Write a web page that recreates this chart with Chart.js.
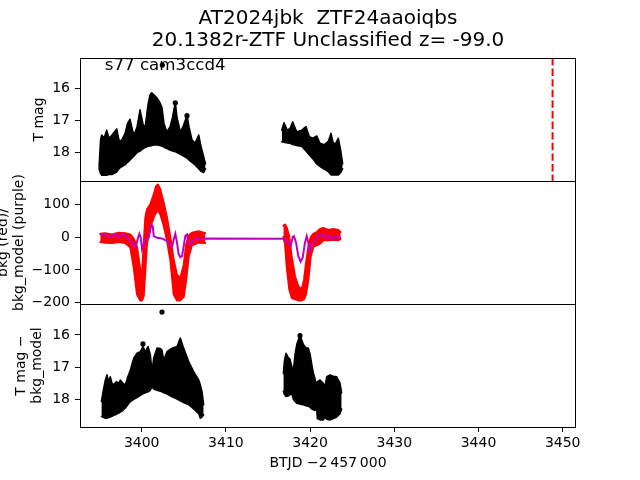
<!DOCTYPE html>
<html><head><meta charset="utf-8">
<script src="https://cdn.jsdelivr.net/npm/chart.js@4/dist/chart.umd.min.js"></script>
<style>html,body{margin:0;padding:0;background:#fff}canvas{display:block}</style>
</head><body>
<canvas id="c" width="640" height="480"></canvas>
<script>
// ---------- data ----------
const TITLE_LINES = ['AT2024jbk  ZTF24aaoiqbs', '20.1382r-ZTF Unclassified z= -99.0'];
const ANNOTATION = 's77 cam3ccd4';
const X_TITLE = 'BTJD \u22122\u2009457\u2009000';
const X_TICKS = [3400, 3410, 3420, 3430, 3440, 3450];
const MAG_TICKS = [16, 17, 18];
const BKG_TICKS = [-200, -100, 0, 100];
const T_EVENT = 3448.8; // red dashed marker

// Panel 1: T mag, envelope of the dense light curve (upper = brightest, lower = faintest)
const tA1 = [3394.93,3395.11,3395.25,3395.52,3395.84,3396.12,3396.47,3397.03,3397.30,3397.54,3398.02,3398.31,3398.61,3398.91,3399.09,3399.44,3399.80,3400.15,3400.39,3400.75,3400.99,3401.19,3401.46,3401.82,3402.17,3402.41,3402.65,3403.00,3403.36,3403.66,3403.99,3404.19,3404.58,3404.90,3405.38,3405.62,3405.97,3406.33,3406.77,3407.04,3407.34,3407.58];
const magTopA1 = [18.45,17.6,17.45,17.55,17.3,17.55,17.45,17.26,17.6,17.65,17.4,17.1,16.96,17.3,17.45,17.2,16.67,17.1,17.24,16.5,16.2,16.14,16.2,16.3,16.45,16.6,17.1,17.35,17.2,16.9,16.42,16.9,17.35,17.2,16.83,17.2,17.6,17.7,17.45,17.8,18.1,18.35];
const magBotA1 = [18.5,18.65,18.7,18.7,18.7,18.68,18.68,18.6,18.5,18.45,18.38,18.3,18.23,18.15,18.1,18.0,17.95,17.88,17.84,17.8,17.79,17.78,17.76,17.76,17.78,17.8,17.83,17.87,17.92,17.95,17.97,18.0,18.05,18.1,18.17,18.23,18.3,18.38,18.5,18.58,18.62,18.5];
const tA2 = [3416.63,3416.9,3417.29,3417.61,3417.93,3418.41,3419.0,3419.51,3419.9,3420.35,3420.78,3421.18,3421.7,3422.16,3422.48,3422.76,3423.05,3423.35,3423.63,3423.87];
const magTopA2 = [17.3,17.07,17.3,17.25,17.04,17.35,17.3,17.19,17.5,17.55,17.48,17.71,17.75,17.65,17.4,17.71,17.7,17.55,17.92,18.35];
const magBotA2 = [17.66,17.68,17.7,17.71,17.75,17.78,17.81,17.95,18.07,18.2,18.35,18.43,18.52,18.59,18.69,18.69,18.69,18.69,18.62,18.5];
const dotTimesA = [3402.45, 3403.99, 3405.38];
const dotMagsA = [15.28, 16.45, 16.85];

// Panel 2: background (red band) and background model (purple line)
const tB1 = [3395.08,3395.68,3396.47,3397.27,3398.05,3398.65,3399.05,3399.44,3399.83,3400.04,3400.24,3400.43,3400.63,3401.02,3401.43,3401.70,3401.94,3402.21,3402.61,3403.00,3403.40,3403.80,3404.19,3404.58,3404.99,3405.26,3405.58,3405.97,3406.77,3407.55];
const bkgUpB1 = [10,12,8,13,12,8,-5,-30,-100,-110,-20,60,85,100,130,155,160,145,105,60,0,-70,-115,-125,-85,-25,5,13,18,12];
const bkgLoB1 = [-15,-17,-18,-15,-18,-32,-93,-175,-193,-193,-180,-100,-20,30,60,75,80,70,35,-10,-70,-175,-193,-193,-182,-135,-60,-25,-17,-18];
const tB2 = [3416.82,3417.02,3417.22,3417.53,3417.81,3418.21,3418.60,3419.00,3419.28,3419.51,3419.79,3420.07,3420.38,3420.78,3421.18,3421.57,3422.16,3422.76,3423.35,3423.63];
const bkgUpB2 = [35,38,30,0,-60,-120,-150,-160,-130,-80,-30,0,10,15,25,28,22,25,22,15];
const bkgLoB2 = [0,-20,-90,-160,-185,-190,-193,-193,-190,-175,-130,-60,-30,-25,-20,-10,-10,-8,-10,-5];
const tModel = [3395.08,3395.68,3396.08,3396.47,3396.86,3397.27,3397.66,3398.05,3398.46,3398.85,3399.05,3399.32,3399.56,3399.72,3399.88,3400.04,3400.24,3400.43,3400.83,3401.14,3401.30,3401.43,3401.82,3402.41,3403.00,3403.40,3403.60,3403.80,3403.99,3404.19,3404.39,3404.58,3404.79,3404.99,3405.18,3405.38,3405.58,3405.77,3406.17,3406.57,3406.96,3407.55,
  3416.82,3417.41,3417.70,3417.93,3418.09,3418.33,3418.60,3418.88,3419.12,3419.39,3419.60,3419.79,3419.90,3420.19,3420.58,3420.97,3421.38,3421.77,3422.16,3422.57,3422.96,3423.35,3423.63];
const bkgModel = [6,6,0,3,10,0,8,5,-7,-17,-32,-27,-2,10,-2,-37,-22,-7,-2,38,33,3,-2,-4,-12,-27,-32,-7,10,-17,-53,-61,-58,-27,3,8,-22,-22,-12,-2,-7,-4,
  -5,-17,-27,0,3,-17,-58,-75,-63,-17,3,-17,-43,-27,-12,3,8,-2,6,-7,3,-2,0];

// Panel 3: T mag - bkg_model envelope
const tC1 = [3395.21,3395.48,3395.68,3395.88,3396.07,3396.27,3396.47,3396.67,3396.97,3397.26,3397.46,3397.76,3398.06,3398.35,3398.65,3399.05,3399.44,3399.84,3400.15,3400.43,3400.75,3401.03,3401.22,3401.42,3401.82,3402.21,3402.41,3402.61,3403.00,3403.60,3404.19,3404.59,3404.98,3405.58,3406.17,3406.77,3406.96,3407.16,3407.36];
const magTopC1 = [18.07,17.66,17.4,17.24,17.45,17.3,17.5,17.55,17.45,17.5,17.4,17.5,17.55,17.3,17.09,16.72,16.57,16.52,16.36,16.52,16.36,16.62,17.14,16.72,16.41,16.42,16.47,16.78,16.52,16.41,16.36,16.1,16.41,16.83,17.14,17.4,17.55,17.76,18.17];
const magBotC1 = [18.53,18.57,18.59,18.59,18.57,18.55,18.53,18.5,18.47,18.43,18.4,18.35,18.27,18.17,18.07,18.0,17.95,17.88,17.83,17.8,17.77,17.72,17.61,17.68,17.72,17.75,17.77,17.8,17.84,17.92,17.99,18.05,18.1,18.17,18.3,18.45,18.59,18.55,18.48];
const tC2 = [3416.82,3416.95,3417.14,3417.4,3417.61,3417.85,3418.01,3418.21,3418.41,3418.8,3419.2,3419.5,3419.79,3420.0,3420.19,3420.4,3420.58,3420.75,3420.86,3421.18,3421.57,3421.77,3421.97,3422.37,3422.76,3423.16,3423.55,3423.75];
const magTopC2 = [17.2,16.8,16.57,16.7,16.75,17.0,17.1,16.6,16.3,16.0,16.3,16.4,16.41,16.6,16.9,17.2,17.35,17.6,17.45,17.4,17.5,17.6,17.3,17.24,17.28,17.3,17.5,17.8];
const magBotC2 = [17.75,17.85,17.91,17.9,17.85,17.85,18.0,18.07,18.12,18.15,18.17,18.2,18.22,18.25,18.3,18.33,18.35,18.2,18.6,18.64,18.64,18.55,18.62,18.64,18.6,18.55,18.45,18.3];
const dotTimesC = [3402.41, 3400.15, 3418.8];
const dotMagsC = [15.29, 16.28, 16.02];

// axis ranges
const X_RANGE = [3392.67, 3451.58];
const MAG_RANGE_A = [15.06, 18.88];
const BKG_RANGE = [-204, 171];
const MAG_RANGE_C = [15.04, 18.86];

// ---------- chart ----------
Chart.defaults.font.family = 'DejaVu Sans';
Chart.defaults.color = '#000';

const toXY = (xs, ys) => xs.map((x, i) => ({x: x, y: ys[i]}));
const fmt = v => (v < 0 ? '\u2212' + Math.abs(v) : String(v));
const setTicks = vals => s => { s.ticks = vals.map(v => ({value: v})); };

const band = (xs, ys, axis, color, fill, bw) => ({
  data: toXY(xs, ys), yAxisID: axis, borderColor: color, backgroundColor: color,
  borderWidth: bw, pointRadius: 0, fill: fill ? '-1' : false, tension: 0,
  borderJoinStyle: 'round', borderCapStyle: 'round'
});
const dots = (xs, ys, axis) => ({
  data: toXY(xs, ys), yAxisID: axis, showLine: false, pointRadius: 2.6,
  pointBackgroundColor: '#000', pointBorderWidth: 0, borderColor: '#000'
});

const yAxis = (opts) => Object.assign({
  type: 'linear', position: 'left', stack: 'panels', stackWeight: 1, offset: false,
  afterFit: s => { s.width = 80; },
  grid: {drawOnChartArea: false, drawTicks: true, tickLength: 5, tickColor: '#000', tickWidth: 1},
  border: {display: false},
  ticks: {font: {size: 14}, padding: 5, color: '#000', callback: v => fmt(v)}
}, opts);

const framePlugin = {
  id: 'frames',
  afterDatasetsDraw(chart) {
    const {ctx, chartArea} = chart;
    ctx.save();
    ctx.strokeStyle = '#000';
    ctx.lineWidth = 1;
    ['yA', 'yB', 'yC'].forEach(id => {
      const s = chart.scales[id];
      ctx.strokeRect(Math.round(chartArea.left) + 0.5, Math.round(s.top) + 0.5,
        Math.round(chartArea.width) - 1, Math.round(s.bottom) - Math.round(s.top));
    });
    const sA = chart.scales.yA;
    ctx.font = '16.67px "DejaVu Sans"';
    ctx.fillStyle = '#000';
    ctx.textBaseline = 'alphabetic';
    ctx.textAlign = 'left';
    ctx.fillText(ANNOTATION, chartArea.left + 0.05 * chartArea.width, sA.top + 0.1 * sA.height);
    ctx.restore();
  }
};

new Chart(document.getElementById('c'), {
  type: 'line',
  data: {
    datasets: [
      {data: toXY(tModel, bkgModel), yAxisID: 'yB', borderColor: '#bf00bf', borderWidth: 2, pointRadius: 0, tension: 0, fill: false},
      {data: toXY([T_EVENT, T_EVENT], MAG_RANGE_A), yAxisID: 'yA', borderColor: '#ff0000', borderWidth: 2, borderDash: [7.4, 3.2], pointRadius: 0, fill: false},
      dots(dotTimesA, dotMagsA, 'yA'),
      dots(dotTimesC, dotMagsC, 'yC'),
      band(tA1, magTopA1, 'yA', '#000', false, 1.5),
      band(tA1, magBotA1, 'yA', '#000', true, 1.5),
      band(tA2, magTopA2, 'yA', '#000', false, 1.5),
      band(tA2, magBotA2, 'yA', '#000', true, 1.5),
      band(tB1, bkgUpB1, 'yB', '#ff0000', false, 2),
      band(tB1, bkgLoB1, 'yB', '#ff0000', true, 2),
      band(tB2, bkgUpB2, 'yB', '#ff0000', false, 2),
      band(tB2, bkgLoB2, 'yB', '#ff0000', true, 2),
      band(tC1, magTopC1, 'yC', '#000', false, 1.5),
      band(tC1, magBotC1, 'yC', '#000', true, 1.5),
      band(tC2, magTopC2, 'yC', '#000', false, 1.5),
      band(tC2, magBotC2, 'yC', '#000', true, 1.5)
    ]
  },
  options: {
    responsive: false, animation: false, events: [],
    devicePixelRatio: 1,
    layout: {padding: {left: 0, right: 64, top: 0, bottom: 0}},
    plugins: {
      legend: {display: false},
      tooltip: {enabled: false},
      title: {
        display: true, text: TITLE_LINES, fullSize: false, color: '#000',
        font: {size: 20, weight: 'normal', lineHeight: 1.1},
        padding: {top: 8, bottom: 6}
      }
    },
    scales: {
      x: {
        type: 'linear', min: X_RANGE[0], max: X_RANGE[1],
        afterBuildTicks: setTicks(X_TICKS),
        afterFit: s => { s.height = 53; },
        grid: {drawOnChartArea: false, drawTicks: true, tickLength: 5, tickColor: '#000'},
        border: {display: false},
        ticks: {font: {size: 14}, padding: 3, color: '#000', maxRotation: 0, autoSkip: false, callback: v => fmt(v)},
        title: {display: true, text: X_TITLE, font: {size: 14}, padding: {top: 0, bottom: 8}}
      },
      yC: yAxis({weight: 1, reverse: true, min: MAG_RANGE_C[0], max: MAG_RANGE_C[1],
        afterBuildTicks: setTicks(MAG_TICKS),
        title: {display: true, text: ['T mag \u2212', 'bkg_model'], font: {size: 14}, padding: {top: 12.6, bottom: 0}}}),
      yB: yAxis({weight: 2, min: BKG_RANGE[0], max: BKG_RANGE[1],
        afterBuildTicks: setTicks(BKG_TICKS),
        title: {display: true, text: ['bkg (red)/', 'bkg_model (purple)'], font: {size: 14}, padding: {top: -5.4, bottom: 0}}}),
      yA: yAxis({weight: 3, reverse: true, min: MAG_RANGE_A[0], max: MAG_RANGE_A[1],
        afterBuildTicks: setTicks(MAG_TICKS),
        title: {display: true, text: 'T mag', font: {size: 14}, padding: {top: 30.6, bottom: 0}}})
    }
  },
  plugins: [framePlugin]
});
</script>
</body></html>
